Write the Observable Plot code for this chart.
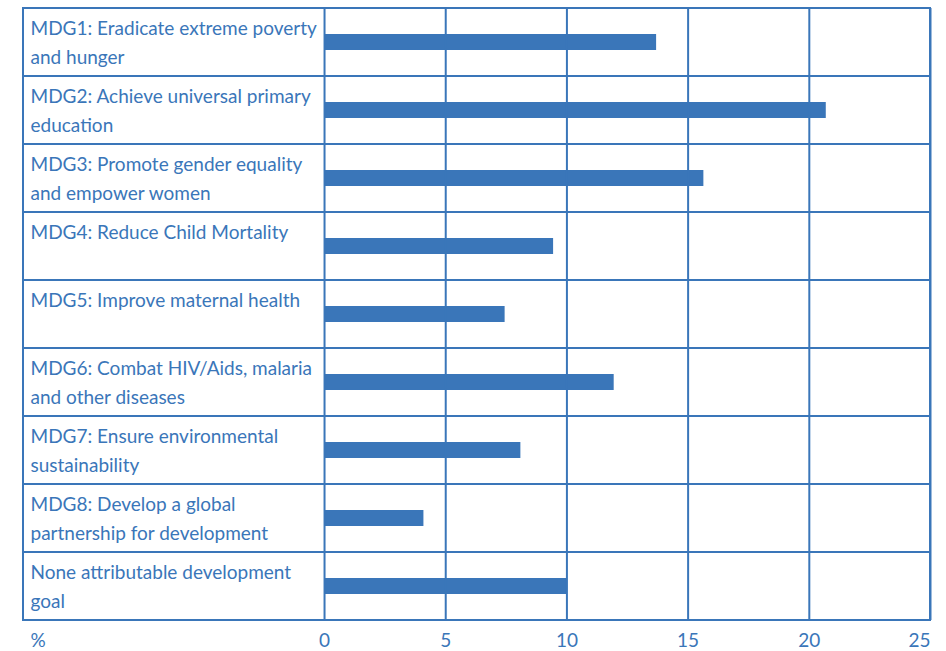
<!DOCTYPE html>
<html>
<head>
<meta charset="utf-8">
<script src="https://cdn.jsdelivr.net/npm/d3@7"></script>
<script src="https://cdn.jsdelivr.net/npm/@observablehq/plot@0.6"></script>
<style>
  html, body { margin: 0; padding: 0; background: #fff; }
  #chart svg { display: block; }
</style>
</head>
<body>
<div id="chart"></div>
<script>
const goals = [
  "MDG1: Eradicate extreme poverty\nand hunger",
  "MDG2: Achieve universal primary\neducation",
  "MDG3: Promote gender equality\nand empower women",
  "MDG4: Reduce Child Mortality",
  "MDG5: Improve maternal health",
  "MDG6: Combat HIV/Aids, malaria\nand other diseases",
  "MDG7: Ensure environmental\nsustainability",
  "MDG8: Develop a global\npartnership for development",
  "None attributable development\ngoal"
];
const shares = [13.7, 20.7, 15.65, 9.45, 7.45, 11.95, 8.1, 4.1, 10.0];
const xTicks = [0, 5, 10, 15, 20, 25];
const unitLabel = "%";

const rows = goals.map((g, i) => ({goal: g, value: shares[i]}));
const blue = "#3a76b9";
const labelMin = -12.42; // x-extent reserved for the label column
const xMax = 25;
const font = "Lato, 'Liberation Sans', sans-serif";
const innerTicks = xTicks.filter(t => t < xMax);
const lastTick = xTicks.filter(t => t === xMax);

const chart = Plot.plot({
  width: 946,
  height: 651,
  marginTop: 8,
  marginBottom: 31,
  marginLeft: 23,
  marginRight: 16,
  style: {fontFamily: font, color: blue, background: "#fff"},
  x: {domain: [labelMin, xMax], label: null, axis: null},
  y: {domain: goals, padding: 0, axis: null},
  marks: [
    Plot.barX(rows, {y: "goal", x: "value", fill: blue, insetTop: 26, insetBottom: 26}),
    Plot.ruleX(xTicks, {stroke: blue, strokeWidth: 2}),
    Plot.barX(rows, {y: "goal", x1: labelMin, x2: xMax, fill: "none", stroke: blue, strokeWidth: 2}),
    Plot.text(rows, {
      y: "goal", x: labelMin, text: "goal", textAnchor: "start", lineAnchor: "top",
      dx: 7, dy: -28, fontSize: 19, lineHeight: 1.53, fill: blue
    }),
    Plot.text([unitLabel], {
      x: labelMin, frameAnchor: "bottom", text: d => d, textAnchor: "start", lineAnchor: "top",
      dx: 7, dy: 13, fontSize: 19, fill: blue
    }),
    Plot.axisX({ticks: innerTicks, tickSize: 0, tickPadding: 13, fontSize: 19, fill: blue, label: null, tickFormat: d => String(d)}),
    Plot.axisX({ticks: lastTick, tickSize: 0, tickPadding: 13, fontSize: 19, fill: blue, label: null, textAnchor: "end", dx: 0, tickFormat: d => String(d)})
  ]
});
document.getElementById("chart").appendChild(chart);
</script>
</body>
</html>
